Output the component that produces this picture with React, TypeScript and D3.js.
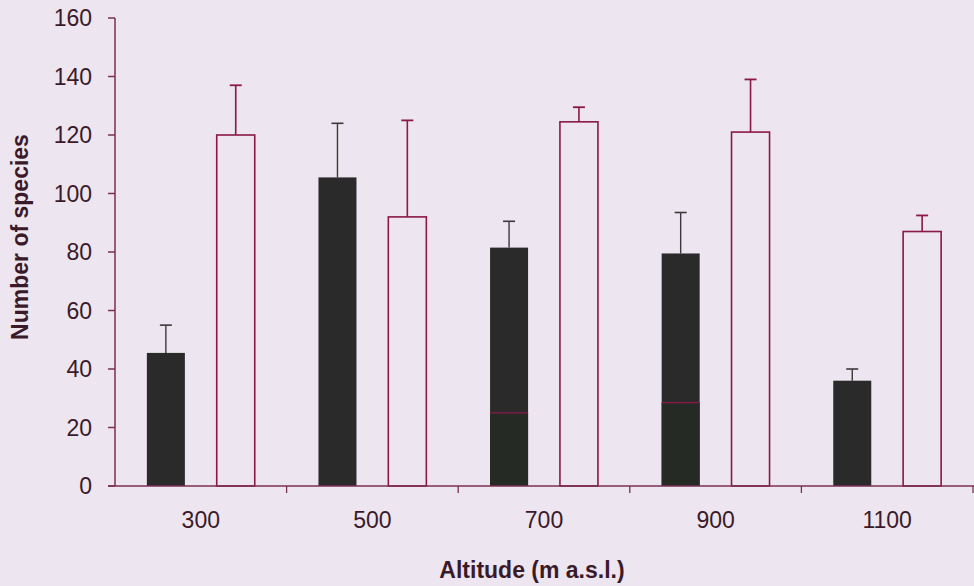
import React from 'react';
import * as d3 from 'd3';

// altitude classes (m a.s.l.)
const categories = ['300', '500', '700', '900', '1100'];
// dark bars: mean and error (upper whisker length)
const darkValues = [45.5, 105.5, 81.5, 79.5, 36];
const darkErrors = [9.5, 18.5, 9, 14, 4];
// dark bars: lower darker part visible in the scan
const darkLower = [0, 0, 25, 28.5, 0];
// open bars: mean and error
const openValues = [120, 92, 124.5, 121, 87];
const openErrors = [17, 33, 5, 18, 5.5];
const yTicks = [0, 20, 40, 60, 80, 100, 120, 140, 160];

const W = 974, H = 586;
const colors = {
    bg: '#ede5ef',
    text: '#3a1a28',
    axis: '#7a2f55',
    outline: '#8a1848',
    dark: '#2a2a2a',
    darkLow: '#262a24',
    darkErr: '#3a3a3a',
};

const App = () => {
    const x0 = 115, x1 = 973, yBase = 486, yTop = 18;
    const xScale = d3.scaleBand().domain(categories).range([x0, x1]).padding(0);
    const sub = d3.scaleBand().domain(['dark', 'open']).range([0, xScale.bandwidth()]).padding(0.456);
    const yScale = d3.scaleLinear().domain([0, 160]).range([yBase, yTop]);
    const font = '"Liberation Sans", Arial, sans-serif';
    const bw = sub.bandwidth();
    const cap = 6;

    return (
        <svg width={W} height={H} style={{ position: 'absolute', left: 0, top: 0, display: 'block' }}
             fontFamily={font}>
            <rect x={0} y={0} width={W} height={H} fill={colors.bg} />

            {/* bars */}
            {categories.map((c, i) => {
                const bx = (xScale(c) as number) + (sub('dark') as number);
                const ox = (xScale(c) as number) + (sub('open') as number);
                const dTop = yScale(darkValues[i]);
                const oTop = yScale(openValues[i]);
                const dErr = yScale(darkValues[i] + darkErrors[i]);
                const oErr = yScale(openValues[i] + openErrors[i]);
                return (
                    <g key={c}>
                        {/* open bar error */}
                        <line x1={ox + bw / 2} x2={ox + bw / 2} y1={oTop} y2={oErr} stroke={colors.outline} strokeWidth={1.6} />
                        <line x1={ox + bw / 2 - cap} x2={ox + bw / 2 + cap} y1={oErr} y2={oErr} stroke={colors.outline} strokeWidth={1.8} />
                        <rect x={ox} y={oTop} width={bw} height={yBase - oTop}
                              fill={colors.bg} stroke={colors.outline} strokeWidth={1.6} />
                        {/* dark bar error */}
                        <line x1={bx + bw / 2} x2={bx + bw / 2} y1={dTop} y2={dErr} stroke={colors.darkErr} strokeWidth={1.4} />
                        <line x1={bx + bw / 2 - cap} x2={bx + bw / 2 + cap} y1={dErr} y2={dErr} stroke={colors.darkErr} strokeWidth={1.6} />
                        <rect x={bx} y={dTop} width={bw} height={yBase - dTop} fill={colors.dark} />
                        {darkLower[i] > 0 && (
                            <g>
                                <rect x={bx} y={yScale(darkLower[i])} width={bw} height={yBase - yScale(darkLower[i])}
                                      fill={colors.darkLow} />
                                <line x1={bx} x2={bx + bw} y1={yScale(darkLower[i])} y2={yScale(darkLower[i])}
                                      stroke={colors.outline} strokeWidth={1.2} />
                            </g>
                        )}
                    </g>
                );
            })}

            {/* y axis */}
            <line x1={x0} x2={x0} y1={yTop} y2={yBase} stroke={colors.axis} strokeWidth={1.5} />
            {yTicks.map(t => (
                <g key={t}>
                    <line x1={x0 - 7} x2={x0} y1={yScale(t)} y2={yScale(t)} stroke={colors.axis} strokeWidth={1.5} />
                    <text x={92} y={yScale(t)} dy="0.35em" textAnchor="end" fontSize={23} fill={colors.text}>{t}</text>
                </g>
            ))}

            {/* x axis */}
            <line x1={x0 - 7} x2={W} y1={yBase} y2={yBase} stroke={colors.axis} strokeWidth={1.5} />
            {categories.map(c => (
                <g key={'t' + c}>
                    <line x1={(xScale(c) as number) + xScale.bandwidth()} x2={(xScale(c) as number) + xScale.bandwidth()}
                          y1={yBase} y2={yBase + 7} stroke={colors.axis} strokeWidth={1.3} />
                    <text x={(xScale(c) as number) + xScale.bandwidth() / 2} y={yBase + 34} dy="0.35em"
                          textAnchor="middle" fontSize={23} fill={colors.text}>{c}</text>
                </g>
            ))}

            {/* titles */}
            <text x={532} y={570} dy="0.35em" textAnchor="middle" fontSize={23} fontWeight="bold" fill={colors.text}>
                Altitude (m a.s.l.)
            </text>
            <text transform="translate(20, 237) rotate(-90)" dy="0.35em" textAnchor="middle"
                  fontSize={23} fontWeight="bold" fill={colors.text}>
                Number of species
            </text>
        </svg>
    );
};

export default App;
